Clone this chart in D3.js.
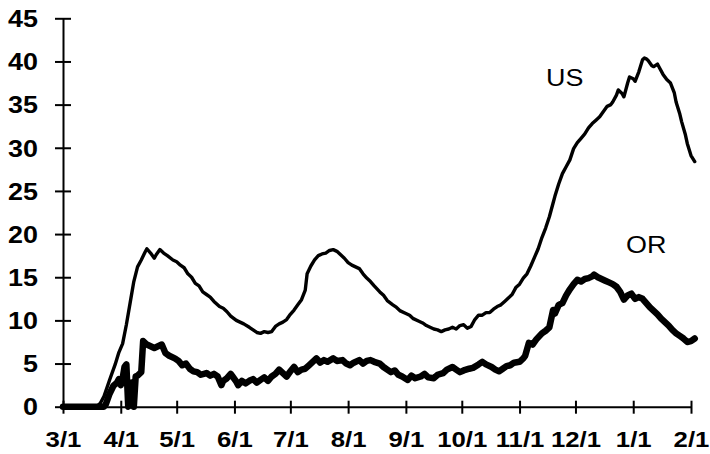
<!DOCTYPE html>
<html>
<head>
<meta charset="utf-8">
<script src="https://cdn.jsdelivr.net/npm/d3@7"></script>
<style>
  html, body { margin: 0; padding: 0; background: #fff; }
  svg { display: block; }
</style>
</head>
<body>
<svg id="chart" width="710" height="454"></svg>
<script>
// ---- data (days since 2020-03-01, value) ----
const startDate = "2020-03-01";
const endDate = "2021-02-01";
const xTickLabels = ["3/1","4/1","5/1","6/1","7/1","8/1","9/1","10/1","11/1","12/1","1/1","2/1"];
const yTicks = [0,5,10,15,20,25,30,35,40,45];

const usDays = [0,18,20,22,25,28,30,32,34,36,38,40,42,44,45,47,49,50,52,54,56,59,61,63,65,67,69,71,73,75,77,79,81,84,86,88,90,93,95,97,100,102,104,106,108,110,112,114,116,118,120,122,124,126,128,130,131,133,135,137,139,141,143,145,147,149,151,153,155,157,159,161,163,165,167,170,172,174,177,179,181,184,186,188,191,193,195,197,199,201,203,205,207,209,211,213,215,217,219,221,223,225,227,229,231,233,235,237,239,241,243,245,247,249,251,253,255,257,259,261,263,264,266,268,270,272,274,276,278,280,282,284,286,288,290,292,294,295,297,298,300,301,303,304,306,307,309,311,312,313,314,316,317,319,320,322,324,326,328,329,331,332,334,335,337,339];
const usValues = [0,0,0.4,1.2,3.1,4.9,6.3,7.3,9.5,12.0,14.5,16.2,17.0,17.9,18.3,17.8,17.2,17.6,18.2,17.8,17.5,17.0,16.8,16.4,16.1,15.4,15.0,14.3,14.0,13.3,13.0,12.7,12.2,11.6,11.4,11.0,10.5,10.0,9.8,9.6,9.2,8.9,8.6,8.5,8.7,8.6,8.7,9.3,9.6,9.8,10.1,10.7,11.2,11.8,12.4,13.5,15.4,16.3,17.0,17.5,17.7,17.8,18.1,18.2,18.0,17.6,17.2,16.7,16.4,16.2,16.0,15.4,14.9,14.5,14.0,13.3,12.9,12.3,11.8,11.5,11.1,10.8,10.6,10.2,9.9,9.7,9.4,9.2,9.0,8.9,8.7,8.9,9.0,9.2,9.0,9.4,9.5,9.1,9.3,10.1,10.6,10.6,10.9,10.9,11.3,11.6,11.8,12.2,12.6,13.0,13.8,14.2,14.9,15.4,16.3,17.3,18.3,19.6,20.7,22.0,23.6,24.4,25.8,27.0,27.8,28.6,29.9,30.6,31.1,31.6,32.3,32.8,33.2,33.6,34.2,34.8,35.0,35.3,36.1,36.7,36.3,35.9,37.5,38.2,38.0,37.7,38.8,40.2,40.4,40.3,40.1,39.5,39.4,39.7,39.3,38.5,37.9,37.5,36.4,35.3,33.9,33.0,31.5,30.5,29.1,28.4];

const orDays = [0,22,23,25,27,29,30,31,32,33,34,35,36,37,38,39,40,41,42,43,44,45,47,49,51,53,55,57,60,62,64,66,68,70,72,74,77,79,81,83,85,86,88,90,91,93,94,96,98,100,102,104,106,108,110,112,114,116,118,120,122,124,126,128,130,132,134,136,138,140,142,145,147,150,152,154,156,159,161,163,165,167,170,172,174,176,178,180,182,185,187,189,192,194,196,199,201,204,206,209,211,213,215,218,220,223,225,227,230,232,234,236,238,240,242,245,247,248,250,252,254,257,259,261,263,264,266,268,270,272,274,276,278,280,282,284,285,287,289,291,293,295,297,299,301,303,305,307,309,311,313,315,317,319,321,323,325,327,329,331,333,335,337,339];
const orValues = [0,0,0.3,1.5,2.4,2.8,3.2,2.5,3.3,4.6,4.9,0,0.2,2.8,0,3.5,3.6,3.8,4.0,7.6,7.4,7.2,7.0,6.8,7.0,7.2,6.2,5.9,5.6,5.3,4.8,5.0,4.4,4.1,4.0,3.7,3.9,3.6,3.8,3.5,2.5,3.0,3.3,3.8,3.5,2.9,2.5,3.0,2.7,3.0,3.2,2.8,3.1,3.4,3.0,3.5,3.8,4.3,3.9,3.5,4.1,4.6,4.0,4.3,4.4,4.8,5.2,5.6,5.1,5.4,5.2,5.6,5.3,5.4,5.0,4.8,5.1,5.4,5.0,5.3,5.4,5.2,5.0,4.6,4.3,4.0,4.2,3.7,3.5,3.1,3.6,3.3,3.5,3.8,3.4,3.3,3.7,3.9,4.3,4.6,4.3,4.0,4.2,4.4,4.5,4.9,5.2,4.9,4.6,4.3,4.1,4.4,4.7,4.8,5.1,5.2,5.6,5.9,7.4,7.2,7.8,8.5,8.8,9.2,11.2,10.8,11.8,12.0,12.9,13.6,14.2,14.7,14.5,14.8,14.9,15.1,15.3,15.0,14.8,14.6,14.4,14.2,13.9,13.3,12.4,12.9,13.1,12.5,12.7,12.5,12.0,11.5,11.1,10.7,10.2,9.8,9.4,8.9,8.5,8.2,7.9,7.5,7.6,7.9];

const seriesLabels = ["US", "OR"];

// ---- chart ----
const svg = d3.select("#chart");
const parse = d3.timeParse("%Y-%m-%d");
const t0 = parse(startDate), t1 = parse(endDate);
const FONT = "'Liberation Sans', Arial, sans-serif";
const SX = 1.17;

const x = d3.scaleTime().domain([t0, t1]).range([63, 691]);
const y = d3.scaleLinear().domain([0, 45]).range([406.7, 18.3]);

const toPts = (days, vals) => days.map((d, i) => ({ date: d3.timeDay.offset(t0, d), v: vals[i] }));
const usData = toPts(usDays, usValues);
const orData = toPts(orDays, orValues);

const line = d3.line().x(d => x(d.date)).y(d => y(d.v)).curve(d3.curveLinear);

// axes
const monthTicks = d3.timeMonth.range(t0, d3.timeDay.offset(t1, 1));
const xAxis = d3.axisBottom(x)
  .tickValues(monthTicks)
  .tickFormat((d, i) => xTickLabels[i])
  .tickSizeInner(7).tickSizeOuter(0);
const gx = svg.append("g").attr("transform", `translate(0,${y(0)})`).call(xAxis);
gx.select(".domain").attr("stroke", "#000").attr("stroke-width", 2);
gx.selectAll(".tick line").attr("y1", -6).attr("y2", 7).attr("stroke", "#000").attr("stroke-width", 2);
gx.selectAll(".tick text")
  .attr("x", 0).attr("y", 0).attr("dy", 0)
  .attr("transform", `translate(0,40) scale(${SX},1)`)
  .attr("fill", "#000")
  .style("font-family", FONT)
  .style("font-weight", "bold")
  .style("font-size", "22px");

const yAxis = d3.axisLeft(y).tickValues(yTicks).tickSizeInner(8).tickSizeOuter(0);
const gy = svg.append("g").attr("transform", `translate(${x(t0)},0)`).call(yAxis);
gy.select(".domain").attr("stroke", "#000").attr("stroke-width", 2);
gy.selectAll(".tick line").attr("x1", 8).attr("x2", -8).attr("stroke", "#000").attr("stroke-width", 2);
gy.selectAll(".tick text")
  .attr("x", 0).attr("dy", "0.36em")
  .attr("transform", `translate(-25,0) scale(${SX},1)`)
  .attr("fill", "#000")
  .style("font-family", FONT)
  .style("font-weight", "bold")
  .style("font-size", "23px");

// lines
svg.append("path").datum(orData)
  .attr("d", line).attr("fill", "none").attr("stroke", "#000")
  .attr("stroke-width", 6.5).attr("stroke-linejoin", "round").attr("stroke-linecap", "round");
svg.append("path").datum(usData)
  .attr("d", line).attr("fill", "none").attr("stroke", "#000")
  .attr("stroke-width", 3.4).attr("stroke-linejoin", "round").attr("stroke-linecap", "round");

// series labels
svg.append("text")
  .attr("transform", `translate(546,86) scale(${SX},1)`)
  .text(seriesLabels[0])
  .style("font-family", FONT)
  .style("font-size", "23px").attr("fill", "#000");
svg.append("text")
  .attr("transform", `translate(626,253) scale(${SX},1)`)
  .text(seriesLabels[1])
  .style("font-family", FONT)
  .style("font-size", "23px").attr("fill", "#000");
</script>
</body>
</html>
